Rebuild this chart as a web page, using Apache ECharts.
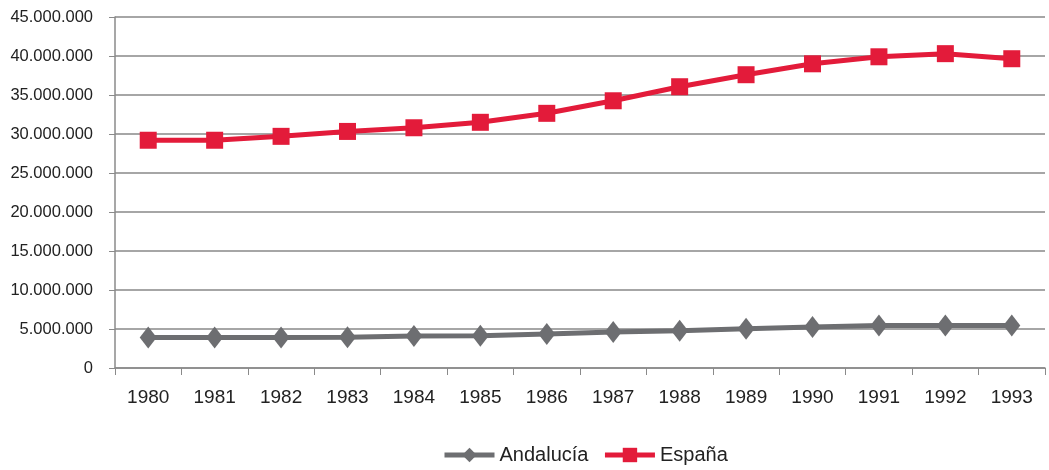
<!DOCTYPE html>
<html>
<head>
<meta charset="utf-8">
<script src="https://cdn.jsdelivr.net/npm/echarts@6/dist/echarts.min.js"></script>
<style>
  html, body { margin: 0; padding: 0; background: #fff; }
  #chart { width: 1049px; height: 470px; }
</style>
</head>
<body>
<div id="chart"></div>
<script>
// años
const years = ['1980', '1981', '1982', '1983', '1984', '1985', '1986', '1987', '1988', '1989', '1990', '1991', '1992', '1993'];
// valores
const andalucia = [3920000, 3920000, 3920000, 3930000, 4100000, 4120000, 4360000, 4600000, 4780000, 5030000, 5260000, 5460000, 5460000, 5460000];
const espana = [29200000, 29200000, 29700000, 30330000, 30800000, 31500000, 32650000, 34260000, 36060000, 37600000, 39000000, 39900000, 40300000, 39650000];

const chart = echarts.init(document.getElementById('chart'));

function fmt(v) {
  return String(v).replace(/\B(?=(\d{3})+(?!\d))/g, '.');
}

const option = {
  animation: false,
  textStyle: { fontFamily: 'Liberation Sans, Arial, sans-serif' },
  grid: { left: 115, right: 4, top: 17, height: 351 },
  legend: {
    bottom: 0,
    left: 437,
    itemWidth: 50,
    itemHeight: 18,
    itemGap: 14,
    lineStyle: { width: 5 },
    textStyle: { fontSize: 20, color: '#222' },
    data: ['Andalucía', 'España'],
  },
  xAxis: {
    type: 'category',
    data: years,
    boundaryGap: true,
    axisLine: { lineStyle: { color: '#8a8a8a', width: 1.5 } },
    axisTick: { show: true, length: 7, lineStyle: { color: '#8a8a8a' } },
    axisLabel: { fontSize: 19, color: '#222', margin: 20 },
  },
  yAxis: {
    type: 'value',
    min: 0,
    max: 45000000,
    interval: 5000000,
    axisLine: { show: true, lineStyle: { color: '#8a8a8a', width: 1.5 } },
    axisTick: { show: true, length: 6, lineStyle: { color: '#8a8a8a' } },
    axisLabel: { fontSize: 16.5, color: '#222', margin: 22, formatter: fmt },
    splitLine: { lineStyle: { color: '#888', width: 1.5 } },
  },
  series: [
    {
      name: 'Andalucía',
      type: 'line',
      data: andalucia,
      symbol: 'diamond',
      symbolSize: [17, 22],
      lineStyle: { color: '#6d6e71', width: 5 },
      itemStyle: { color: '#6d6e71' },
    },
    {
      name: 'España',
      type: 'line',
      data: espana,
      symbol: 'rect',
      symbolSize: 17,
      lineStyle: { color: '#e31b3a', width: 5 },
      itemStyle: { color: '#e31b3a' },
    },
  ],
};

chart.setOption(option);
</script>
</body>
</html>
